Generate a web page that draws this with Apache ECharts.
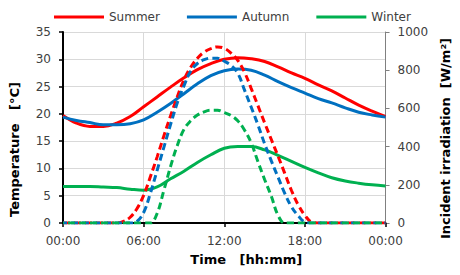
<!DOCTYPE html>
<html><head><meta charset="utf-8">
<script src="https://cdn.jsdelivr.net/npm/echarts@6/dist/echarts.min.js"></script>
<style>html,body{margin:0;padding:0;background:#fff}#c{width:460px;height:275px}</style>
</head><body><div id="c"></div>
<script>
// Temperature [°C], hourly 0..24 h
const tempHours = [0,1,2,3,4,5,6,7,8,9,10,11,12,13,14,15,16,17,18,19,20,21,22,23,24];
const summerTemp = [19.7,18.3,17.7,17.7,18.3,19.5,21.3,23.1,24.9,26.6,28.1,29.2,30.0,30.3,30.1,29.6,28.6,27.5,26.5,25.3,24.2,22.9,21.6,20.5,19.5];
const autumnTemp = [19.4,18.8,18.4,18.0,18.0,18.2,18.9,20.3,21.9,23.7,25.5,27.0,27.9,28.2,28.0,27.1,25.9,24.8,23.8,22.8,22.0,21.1,20.3,19.8,19.4];
const winterTemp = [6.7,6.7,6.7,6.6,6.5,6.2,6.0,6.6,8.1,9.5,11.1,12.5,13.7,14.0,14.0,13.4,12.4,11.3,10.2,9.2,8.3,7.7,7.3,7.0,6.8];
// Incident irradiation [W/m2], half-hourly 0..24 h
const irrHours = [0,0.5,1,1.5,2,2.5,3,3.5,4,4.5,5,5.5,6,6.5,7,7.5,8,8.5,9,9.5,10,10.5,11,11.5,12,12.5,13,13.5,14,14.5,15,15.5,16,16.5,17,17.5,18,18.5,19,19.5,20,20.5,21,21.5,22,22.5,23,23.5,24];
const summerIrr = [0,0,0,0,0,0,0,0,0,8,30,75,145,242,345,455,560,660,750,815,862,895,913,922,915,890,852,790,705,615,525,437,350,260,170,95,40,5,0,0,0,0,0,0,0,0,0,0,0];
const autumnIrr = [0,0,0,0,0,0,0,0,0,0,0,8,55,155,275,395,515,628,718,795,835,855,863,862,847,825,785,697,607,515,415,325,240,155,85,38,5,0,0,0,0,0,0,0,0,0,0,0,0];
const winterIrr = [0,0,0,0,0,0,0,0,0,0,0,0,0,0,50,170,295,405,490,535,565,582,590,590,578,563,535,487,420,322,228,140,40,0,0,0,0,0,0,0,0,0,0,0,0,0,0,0,0];
const seriesNames = ['Summer','Autumn','Winter'];
const xTickLabels = ['00:00','06:00','12:00','18:00','00:00'];
const colors = ['#FF0000','#0070C0','#00B050'];

const pair = (xs, ys) => xs.map((x, i) => [x, ys[i]]);
const temps = [summerTemp, autumnTemp, winterTemp];
const irrs = [summerIrr, autumnIrr, winterIrr];
const font = 'DejaVu Sans';

const series = [];
seriesNames.forEach((n, i) => {
  series.push({
    name: n, type: 'line', yAxisIndex: 0, data: pair(tempHours, temps[i]),
    symbol: 'none', smooth: 0.4, color: colors[i],
    lineStyle: {width: 3, color: colors[i]}
  });
});
seriesNames.forEach((n, i) => {
  series.push({
    name: n + ' irradiation', type: 'line', yAxisIndex: 1, data: pair(irrHours, irrs[i]),
    symbol: 'none', smooth: 0.4, color: colors[i],
    lineStyle: {width: 3, color: colors[i], type: [7, 4], dashOffset: i * 3, cap: 'butt'}
  });
});

const chart = echarts.init(document.getElementById('c'), null, {renderer: 'svg'});
chart.setOption({
  animation: false,
  textStyle: {fontFamily: font},
  legend: {
    data: seriesNames, top: 6, left: 49, itemWidth: 50, itemHeight: 12, itemGap: 27,
    icon: 'path://M0,5.5 L50,5.5 L50,8.5 L0,8.5 Z',
    textStyle: {fontFamily: font, fontSize: 12, color: '#404040'}
  },
  grid: {left: 62, right: 72, top: 32, bottom: 52},
  xAxis: {
    type: 'value', min: 0, max: 24, interval: 6,
    name: 'Time   [hh:mm]', nameLocation: 'middle', nameGap: 30,
    nameTextStyle: {fontFamily: font, fontSize: 13, fontWeight: 'bold', color: '#000', padding: [0, 0, 0, 44]},
    axisLine: {lineStyle: {color: '#000', width: 2}},
    axisTick: {show: true, length: 4, lineStyle: {color: '#000', width: 1.5}},
    axisLabel: {margin: 12, fontSize: 12, color: '#404040', fontFamily: font,
      formatter: v => xTickLabels[Math.round(v / 6)]},
    splitLine: {show: true, lineStyle: {color: '#D9D9D9', width: 1}}
  },
  yAxis: [{
    type: 'value', min: 0, max: 35, interval: 5, position: 'left',
    name: 'Temperature   [°C]', nameLocation: 'middle', nameGap: 42, nameRotate: 90,
    nameTextStyle: {fontFamily: font, fontSize: 13, fontWeight: 'bold', color: '#000', padding: [0, 44, 0, 0]},
    axisLine: {show: true, lineStyle: {color: '#000', width: 2}},
    axisTick: {show: true, length: 4, lineStyle: {color: '#000', width: 1.5}},
    axisLabel: {margin: 12, fontSize: 12, color: '#404040', fontFamily: font},
    splitLine: {show: true, lineStyle: {color: '#D9D9D9', width: 1}}
  }, {
    type: 'value', min: 0, max: 1000, interval: 200, position: 'right',
    name: 'Incident irradiation  [W/m²]', nameLocation: 'middle', nameGap: 52, nameRotate: 90,
    nameTextStyle: {fontFamily: font, fontSize: 13, fontWeight: 'bold', color: '#000', padding: [0, 22, 0, 0]},
    axisLine: {show: true, lineStyle: {color: '#808080', width: 1}},
    axisTick: {show: true, length: 4, lineStyle: {color: '#808080', width: 1}},
    axisLabel: {margin: 12, fontSize: 12, color: '#404040', fontFamily: font, formatter: v => String(v)},
    splitLine: {show: false}
  }],
  series: series
});
</script></body></html>
